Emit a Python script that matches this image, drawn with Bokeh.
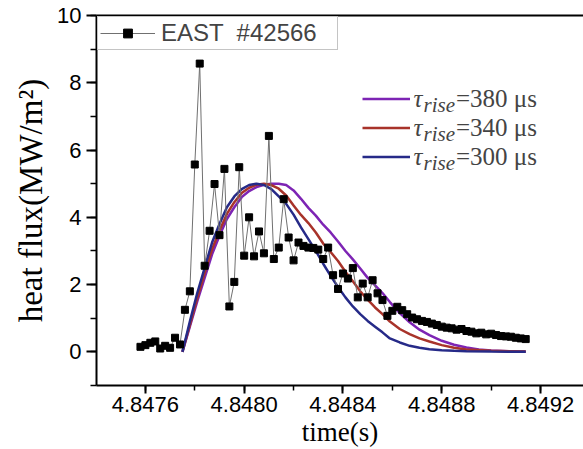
from bokeh.plotting import figure
from bokeh.models import (Range1d, LinearAxis, SingleIntervalTicker, FixedTicker,
                          PrintfTickFormatter, Legend, LegendItem, Label)
from bokeh.embed import file_html
from bokeh.resources import INLINE

# ---- measured data (EAST #42566) ----
time = [4.84758, 4.84760, 4.84762, 4.84764, 4.84766, 4.84768, 4.84770, 4.84772, 4.84774,
        4.84776, 4.84778, 4.84780, 4.84782, 4.84784, 4.84786, 4.84788, 4.84790, 4.84792,
        4.84794, 4.84796, 4.84798, 4.84800, 4.84802, 4.84804, 4.84806, 4.84808, 4.84810,
        4.84812, 4.84814, 4.84816, 4.84818, 4.84820, 4.84822, 4.84824, 4.84826, 4.84828,
        4.84830, 4.84832, 4.84834, 4.84836, 4.84838, 4.84840, 4.84842, 4.84844, 4.84846,
        4.84848, 4.84850, 4.84852, 4.84854, 4.84856, 4.84858, 4.84860, 4.84862, 4.84864,
        4.84866, 4.84868, 4.84870, 4.84872, 4.84874, 4.84876, 4.84878, 4.84880, 4.84882,
        4.84884, 4.84886, 4.84888, 4.84890, 4.84892, 4.84894, 4.84896, 4.84898, 4.84900,
        4.84902, 4.84904, 4.84906, 4.84908, 4.84910, 4.84912, 4.84914]
heat_flux = [0.15, 0.20, 0.27, 0.31, 0.10, 0.18, 0.12, 0.42, 0.22,
             1.25, 1.80, 5.57, 8.57, 2.56, 3.60, 4.99, 3.47, 5.44,
             1.35, 2.08, 5.49, 2.86, 4.00, 2.84, 3.58, 2.93, 6.42,
             2.76, 3.10, 4.54, 3.40, 2.72, 3.25, 3.15, 3.10, 3.09,
             3.04, 2.76, 3.10, 2.28, 1.87, 2.33, 2.18, 2.49, 1.62,
             2.03, 1.62, 2.13, 1.74, 1.54, 1.07, 1.22, 1.34, 1.24,
             1.12, 1.02, 0.97, 0.92, 0.89, 0.84, 0.80, 0.75, 0.72,
             0.70, 0.66, 0.68, 0.62, 0.60, 0.55, 0.57, 0.52, 0.54,
             0.50, 0.47, 0.46, 0.45, 0.42, 0.40, 0.38]

# ---- model curves ----
t_300 = [4.84775, 4.84778, 4.84781, 4.84784, 4.84787, 4.84790, 4.84793, 4.84796, 4.84799,
         4.84802, 4.84805, 4.84808, 4.84811, 4.84814, 4.84817, 4.84820, 4.84823, 4.84826,
         4.84829, 4.84832, 4.84835, 4.84838, 4.84841, 4.84844, 4.84847, 4.84850, 4.84853,
         4.84856, 4.84859, 4.84863, 4.84867, 4.84871, 4.84875, 4.84880, 4.84885, 4.84890,
         4.84900, 4.84914]
q_300 = [0.0, 0.90, 1.75, 2.50, 3.25, 3.80, 4.30, 4.62, 4.84,
         4.96, 5.00, 4.96, 4.84, 4.62, 4.40, 4.08, 3.70, 3.35,
         3.00, 2.62, 2.26, 1.93, 1.62, 1.35, 1.12, 0.92, 0.75,
         0.58, 0.40, 0.28, 0.18, 0.12, 0.08, 0.05, 0.03, 0.02,
         0.01, 0.0]

t_340 = [4.84775, 4.84778, 4.84781, 4.84784, 4.84787, 4.84790, 4.84793, 4.84796, 4.84799,
         4.84802, 4.84805, 4.84808, 4.84811, 4.84814, 4.84817, 4.84820, 4.84823, 4.84826,
         4.84829, 4.84832, 4.84835, 4.84838, 4.84841, 4.84844, 4.84847, 4.84850, 4.84853,
         4.84856, 4.84859, 4.84863, 4.84867, 4.84871, 4.84875, 4.84880, 4.84885, 4.84890,
         4.84900, 4.84914]
q_340 = [0.0, 0.80, 1.60, 2.35, 3.05, 3.60, 4.10, 4.45, 4.72,
         4.88, 4.97, 5.00, 4.96, 4.85, 4.65, 4.35, 4.07, 3.83,
         3.55, 3.22, 2.97, 2.70, 2.38, 2.10, 1.80, 1.55, 1.32,
         1.12, 0.90, 0.68, 0.53, 0.40, 0.31, 0.20, 0.12, 0.07,
         0.03, 0.01]

t_380 = [4.84775, 4.84778, 4.84781, 4.84784, 4.84787, 4.84790, 4.84793, 4.84796, 4.84799,
         4.84802, 4.84805, 4.84808, 4.84811, 4.84814, 4.84817, 4.84820, 4.84823, 4.84826,
         4.84829, 4.84832, 4.84835, 4.84838, 4.84841, 4.84844, 4.84847, 4.84850, 4.84853,
         4.84856, 4.84859, 4.84863, 4.84867, 4.84871, 4.84875, 4.84880, 4.84885, 4.84890,
         4.84895, 4.84900, 4.84907, 4.84914]
q_380 = [0.0, 0.75, 1.50, 2.20, 2.90, 3.45, 3.95, 4.30, 4.60,
         4.78, 4.90, 4.97, 5.00, 5.00, 4.96, 4.80, 4.55, 4.28,
         4.05, 3.78, 3.55, 3.28, 3.00, 2.75, 2.48, 2.20, 1.98,
         1.75, 1.48, 1.15, 0.88, 0.66, 0.50, 0.33, 0.21, 0.13,
         0.07, 0.04, 0.02, 0.0]

legend_main = "EAST  #42566"
tau_values = ["=380 μs", "=340 μs", "=300 μs"]
curve_colors = ["#7d24b4", "#a8332a", "#262a88"]

p = figure(width=583, height=449, output_backend="svg", toolbar_location=None,
           x_range=Range1d(4.847402, 4.849374), y_range=Range1d(-1, 10),
           min_border_left=96, min_border_right=0, min_border_top=15, min_border_bottom=64,
           x_axis_label="time(s)", y_axis_label="heat flux(MW/m²)")
p.grid.visible = False
p.outline_line_color = None
p.background_fill_color = "white"
p.border_fill_color = "white"

# axes
for ax in (p.xaxis[0], p.yaxis[0]):
    ax.axis_line_width = 2
    ax.axis_line_color = "black"
    ax.major_tick_line_width = 2
    ax.minor_tick_line_width = 1.5
    ax.major_tick_in = 0
    ax.minor_tick_in = 0
    ax.major_label_text_font = "Liberation Sans"
    ax.major_label_text_font_size = "22px"
    ax.major_label_text_color = "black"
    ax.axis_label_text_font = "Liberation Serif"
    ax.axis_label_text_font_style = "normal"
    ax.axis_label_text_color = "black"

xa = p.xaxis[0]
xa.ticker = SingleIntervalTicker(interval=0.0004, num_minor_ticks=2)
xa.formatter = PrintfTickFormatter(format="%.4f")
xa.major_tick_out = 8
xa.minor_tick_out = 5
xa.major_label_standoff = 3
xa.axis_label_text_font_size = "27px"
xa.axis_label_standoff = 2

ya = p.yaxis[0]
ya.ticker = SingleIntervalTicker(interval=2, num_minor_ticks=2)
ya.major_tick_out = 10
ya.minor_tick_out = 6
ya.major_label_standoff = 5
ya.axis_label_text_font_size = "33px"
ya.axis_label_standoff = 5

top_axis = LinearAxis(ticker=FixedTicker(ticks=[]), axis_line_width=2, axis_line_color="black",
                      major_tick_out=0, minor_tick_out=0, major_tick_in=0, minor_tick_in=0,
                      major_label_standoff=0, axis_label_standoff=0,
                      major_label_text_font_size="0px")
p.add_layout(top_axis, "above")

# model curves
r380 = p.line(t_380, q_380, line_color=curve_colors[0], line_width=2.5)
r340 = p.line(t_340, q_340, line_color=curve_colors[1], line_width=2.5)
r300 = p.line(t_300, q_300, line_color=curve_colors[2], line_width=2.5)

# measured data
r_line = p.line(time, heat_flux, line_color="#707070", line_width=1)
r_sq = p.scatter(time, heat_flux, marker="square", size=7, fill_color="black", line_color="black")

leg1 = Legend(items=[LegendItem(label=legend_main, renderers=[r_line, r_sq])],
              location="top_left", margin=1, padding=2, spacing=0,
              glyph_width=55, glyph_height=22, label_standoff=6, label_width=174,
              label_text_font="Liberation Sans", label_text_font_size="24px",
              border_line_color="#8a8a8a", border_line_width=1,
              background_fill_color="white", background_fill_alpha=1)
p.add_layout(leg1, "center")

leg2 = Legend(items=[LegendItem(label=tau_values[0], renderers=[r380]),
                     LegendItem(label=tau_values[1], renderers=[r340]),
                     LegendItem(label=tau_values[2], renderers=[r300])],
              location=(266, 214), margin=0, padding=0, spacing=0,
              glyph_width=48, glyph_height=29, label_height=29, label_standoff=46,
              label_text_font="Liberation Serif", label_text_font_size="25px",
              border_line_color=None, background_fill_alpha=0)
p.add_layout(leg2, "center")

for yc in (287, 258, 229):
    p.add_layout(Label(x=317, y=yc, x_units="screen", y_units="screen", text="τ",
                       text_font="Liberation Serif", text_font_style="italic",
                       text_font_size="25px", text_baseline="middle"))
    p.add_layout(Label(x=327, y=yc - 6, x_units="screen", y_units="screen", text="rise",
                       text_font="Liberation Serif", text_font_style="italic",
                       text_font_size="21px", text_baseline="middle"))

open("out.html", "w").write(file_html(p, INLINE))
